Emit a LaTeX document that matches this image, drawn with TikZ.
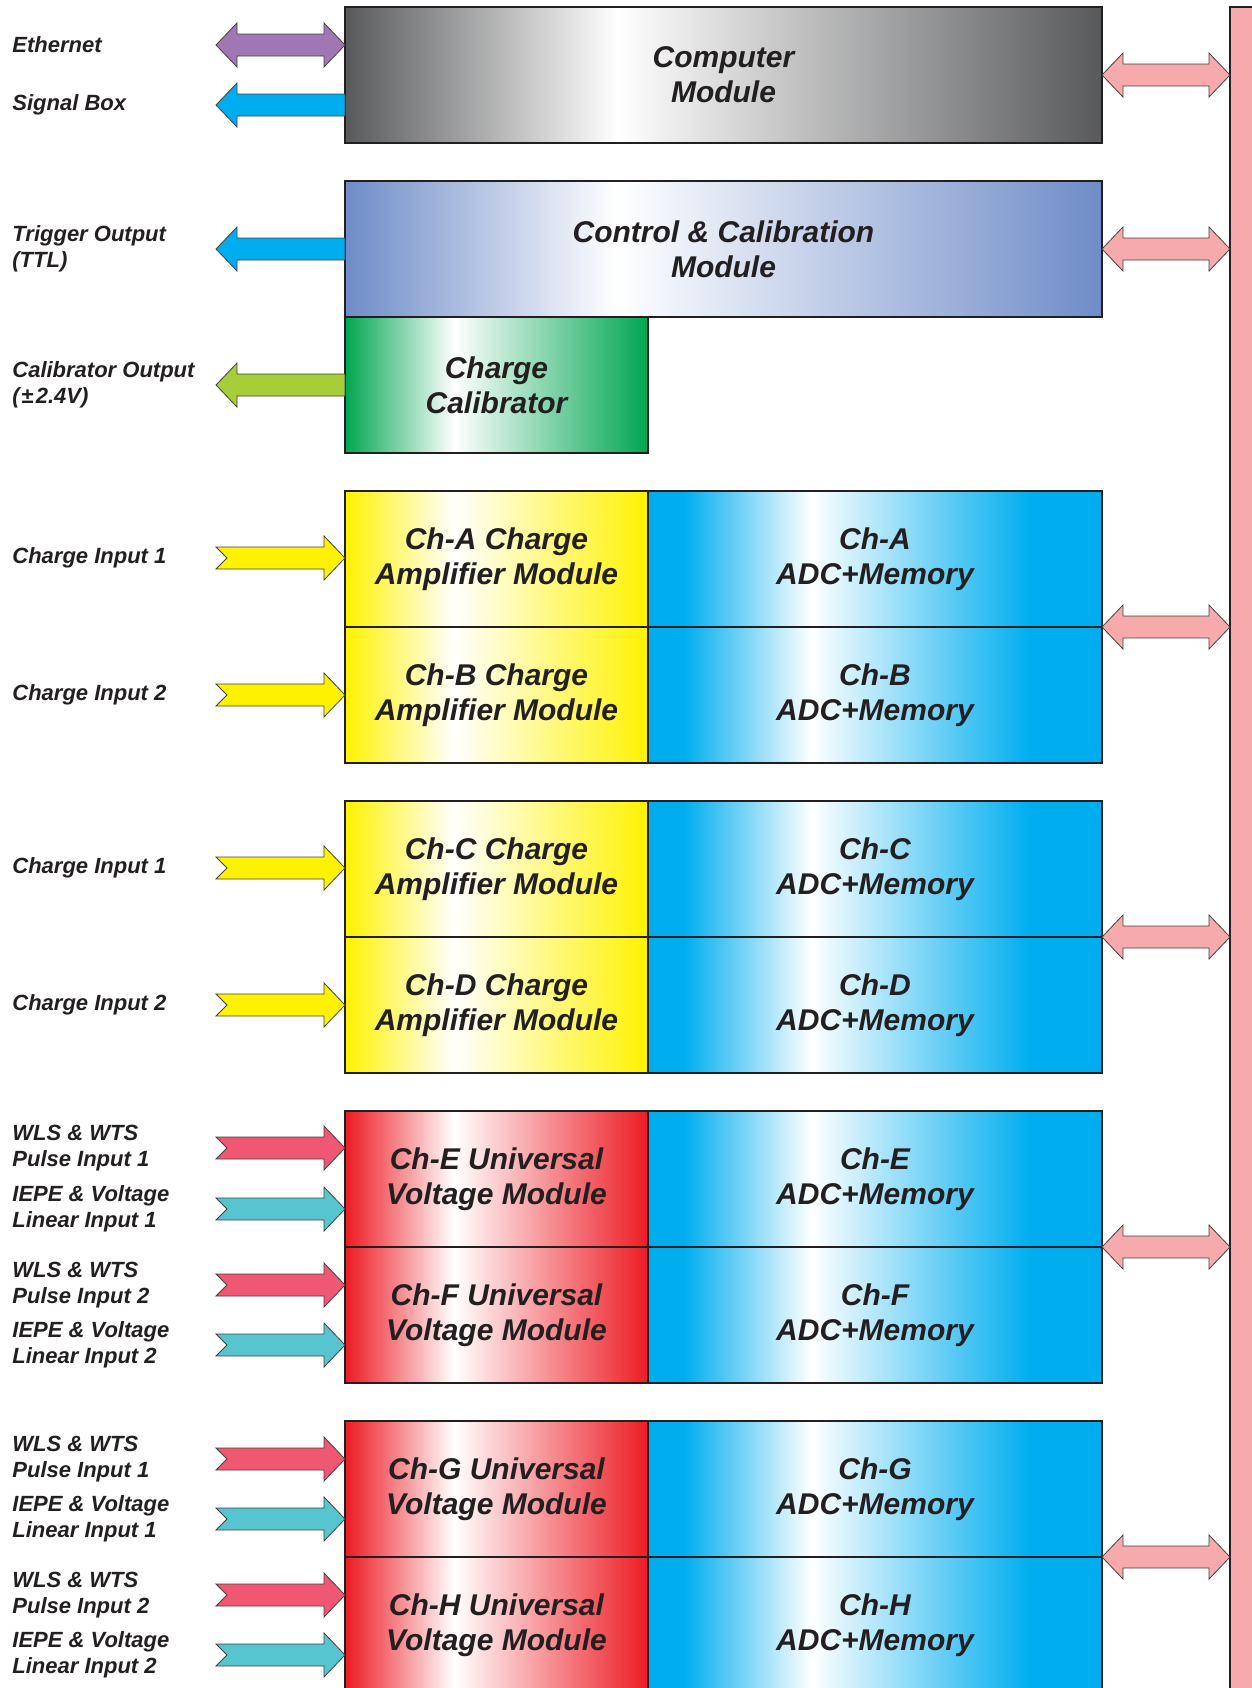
\documentclass[tikz,border=0pt]{standalone}
\usepackage{fontspec}
\setmainfont{Liberation Sans}
\usetikzlibrary{positioning,calc}

\definecolor{txt}{RGB}{35,31,32}
\definecolor{cgray}{RGB}{88,89,91}
\definecolor{cblue}{RGB}{110,140,200}
\definecolor{cgreen}{RGB}{0,166,81}
\definecolor{cyellow}{RGB}{255,242,0}
\definecolor{ccyan}{RGB}{0,174,239}
\definecolor{cred}{RGB}{237,28,36}
\definecolor{cpink}{RGB}{246,170,172}
\definecolor{cpurple}{RGB}{161,118,181}
\definecolor{clime}{RGB}{166,206,57}
\definecolor{crose}{RGB}{239,87,115}
\definecolor{cteal}{RGB}{86,197,208}

% white band at about a third of the box
\newcommand{\modshade}[2]{%
  \pgfdeclarehorizontalshading{#1}{100bp}{color(0bp)=(#2); color(25bp)=(#2);
    color(43bp)=(white); color(75bp)=(#2); color(100bp)=(#2)}}
\modshade{compshade}{cgray}
\modshade{ctrlshade}{cblue}
\modshade{calshade}{cgreen}
\modshade{ampshade}{cyellow}
\pgfdeclarehorizontalshading{redshade}{100bp}{color(0bp)=(cred); color(25bp)=(cred);
  color(27bp)=(cred!90!white); color(43bp)=(white); color(75bp)=(cred); color(100bp)=(cred)}
\pgfdeclarehorizontalshading{adcshade}{100bp}{color(0bp)=(ccyan); color(25bp)=(ccyan);
  color(29bp)=(ccyan); color(43bp)=(white); color(67bp)=(ccyan); color(100bp)=(ccyan)}

\tikzset{
  module/.style={draw=txt, line width=0.6pt, inner sep=0pt, outer sep=0pt,
    minimum height=68pt, align=center, text=txt, shade,
    font=\fontsize{15}{17.5}\selectfont\bfseries\itshape},
  wide/.style={module, minimum width=378.5pt},
  amp/.style={module, minimum width=151.5pt},
  adc/.style={module, minimum width=227pt, shading=adcshade},
  lbl/.style={anchor=west, align=left, inner sep=0pt, text=txt,
    font=\fontsize{11}{13}\selectfont\bfseries\itshape},
  blockarrow/.style={draw=txt!85, line width=0.4pt},
  % arrow heads pointing both ways
  dblarrow/.style={blockarrow, to path={let \p1=(\tikztostart), \p2=(\tikztotarget) in
    (\x1,\y1) -- (\x1+10.5pt,\y1+11pt) -- (\x1+10.5pt,\y1+5.5pt) -- (\x2-10.5pt,\y1+5.5pt)
    -- (\x2-10.5pt,\y1+11pt) -- (\x2,\y1) -- (\x2-10.5pt,\y1-11pt) -- (\x2-10.5pt,\y1-5.5pt)
    -- (\x1+10.5pt,\y1-5.5pt) -- (\x1+10.5pt,\y1-11pt) -- cycle}},
  % head on the start, flat end on the module
  outarrow/.style={blockarrow, to path={let \p1=(\tikztostart), \p2=(\tikztotarget) in
    (\x1,\y1) -- (\x1+10.5pt,\y1+11pt) -- (\x1+10.5pt,\y1+5.5pt) -- (\x2,\y1+5.5pt)
    -- (\x2,\y1-5.5pt) -- (\x1+10.5pt,\y1-5.5pt) -- (\x1+10.5pt,\y1-11pt) -- cycle}},
  % notched tail, head on the module
  inarrow/.style={blockarrow, to path={let \p1=(\tikztostart), \p2=(\tikztotarget) in
    (\x1,\y1+5.5pt) -- (\x2-10.5pt,\y1+5.5pt) -- (\x2-10.5pt,\y1+11pt) -- (\x2,\y1)
    -- (\x2-10.5pt,\y1-11pt) -- (\x2-10.5pt,\y1-5.5pt) -- (\x1,\y1-5.5pt) -- (\x1+5.5pt,\y1)
    -- cycle}},
}

\begin{document}
\begin{tikzpicture}[x=0.5pt, y=-0.5pt]
  \path[use as bounding box, clip] (0,0) rectangle (1252,1688);

  % modules
  \node[wide, shading=compshade, anchor=north west] (comp) at (345,7) {Computer\\Module};
  \node[wide, shading=ctrlshade, below=19pt of comp.south west, anchor=north west] (ctrl)
    {Control \& Calibration\\Module};
  \node[amp, shading=calshade, below=0pt of ctrl.south west, anchor=north west] (cal)
    {Charge\\Calibrator};

  \node[amp, shading=ampshade, below=19pt of cal] (ampa) {Ch-A Charge\\Amplifier Module};
  \node[amp, shading=ampshade, below=0pt of ampa] (ampb) {Ch-B Charge\\Amplifier Module};
  \node[adc, right=0pt of ampa] (adca) {Ch-A\\ADC+Memory};
  \node[adc, right=0pt of ampb] (adcb) {Ch-B\\ADC+Memory};

  \node[amp, shading=ampshade, below=19pt of ampb] (ampc) {Ch-C Charge\\Amplifier Module};
  \node[amp, shading=ampshade, below=0pt of ampc] (ampd) {Ch-D Charge\\Amplifier Module};
  \node[adc, right=0pt of ampc] (adcc) {Ch-C\\ADC+Memory};
  \node[adc, right=0pt of ampd] (adcd) {Ch-D\\ADC+Memory};

  \node[amp, shading=redshade, below=19pt of ampd] (ampe) {Ch-E Universal\\Voltage Module};
  \node[amp, shading=redshade, below=0pt of ampe] (ampf) {Ch-F Universal\\Voltage Module};
  \node[adc, right=0pt of ampe] (adce) {Ch-E\\ADC+Memory};
  \node[adc, right=0pt of ampf] (adcf) {Ch-F\\ADC+Memory};

  \node[amp, shading=redshade, below=19pt of ampf] (ampg) {Ch-G Universal\\Voltage Module};
  \node[amp, shading=redshade, below=0pt of ampg] (amph) {Ch-H Universal\\Voltage Module};
  \node[adc, right=0pt of ampg] (adcg) {Ch-G\\ADC+Memory};
  \node[adc, right=0pt of amph] (adch) {Ch-H\\ADC+Memory};

  % bus on the right
  \node[draw=txt, line width=0.6pt, fill=cpink, inner sep=0pt, outer sep=0pt,
    minimum width=15pt, minimum height=846.5pt, anchor=north west] (bus) at (1230,7) {};
  \draw[dblarrow, fill=cpink] (comp.east) to (comp.east -| bus.west);
  \draw[dblarrow, fill=cpink] (ctrl.east) to (ctrl.east -| bus.west);
  \draw[dblarrow, fill=cpink] (adca.south east) to (adca.south east -| bus.west);
  \draw[dblarrow, fill=cpink] (adcc.south east) to (adcc.south east -| bus.west);
  \draw[dblarrow, fill=cpink] (adce.south east) to (adce.south east -| bus.west);
  \draw[dblarrow, fill=cpink] (adcg.south east) to (adcg.south east -| bus.west);

  % outputs
  \node[lbl] (leth) at (12,45) {Ethernet};
  \coordinate (teth) at (216,45);
  \draw[dblarrow, fill=cpurple] (teth) to (teth -| comp.west);
  \node[lbl] (lsig) at (12,105) {Signal Box};
  \coordinate (tsig) at (216,105);
  \draw[outarrow, fill=ccyan] (tsig) to (tsig -| comp.west);
  \node[lbl] (ltrig) at (12,249) {Trigger Output\\(TTL)};
  \coordinate (ttrig) at (216,249);
  \draw[outarrow, fill=ccyan] (ttrig) to (ttrig -| ctrl.west);
  \node[lbl] (lcal) at (12,385) {Calibrator Output\\(\kern1pt{\upshape ±}\kern1pt2.4V)};
  \coordinate (tcal) at (216,385);
  \draw[outarrow, fill=clime] (tcal) to (tcal -| cal.west);

  % charge inputs
  \node[lbl] (lqa) at (12,558) {Charge Input 1};
  \coordinate (tqa) at (216,558);
  \draw[inarrow, fill=cyellow] (tqa) to (tqa -| ampa.west);
  \node[lbl] (lqb) at (12,695) {Charge Input 2};
  \coordinate (tqb) at (216,695);
  \draw[inarrow, fill=cyellow] (tqb) to (tqb -| ampb.west);
  \node[lbl] (lqc) at (12,868) {Charge Input 1};
  \coordinate (tqc) at (216,868);
  \draw[inarrow, fill=cyellow] (tqc) to (tqc -| ampc.west);
  \node[lbl] (lqd) at (12,1005) {Charge Input 2};
  \coordinate (tqd) at (216,1005);
  \draw[inarrow, fill=cyellow] (tqd) to (tqd -| ampd.west);

  % universal inputs
  \node[lbl] (lpe) at (12,1148) {WLS \& WTS\\Pulse Input 1};
  \coordinate (tpe) at (216,1148);
  \draw[inarrow, fill=crose] (tpe) to (tpe -| ampe.west);
  \node[lbl] (lve) at (12,1209) {IEPE \& Voltage\\Linear Input 1};
  \coordinate (tve) at (216,1209);
  \draw[inarrow, fill=cteal] (tve) to (tve -| ampe.west);
  \node[lbl] (lpf) at (12,1285) {WLS \& WTS\\Pulse Input 2};
  \coordinate (tpf) at (216,1285);
  \draw[inarrow, fill=crose] (tpf) to (tpf -| ampf.west);
  \node[lbl] (lvf) at (12,1345) {IEPE \& Voltage\\Linear Input 2};
  \coordinate (tvf) at (216,1345);
  \draw[inarrow, fill=cteal] (tvf) to (tvf -| ampf.west);

  \node[lbl] (lpg) at (12,1459) {WLS \& WTS\\Pulse Input 1};
  \coordinate (tpg) at (216,1459);
  \draw[inarrow, fill=crose] (tpg) to (tpg -| ampg.west);
  \node[lbl] (lvg) at (12,1519) {IEPE \& Voltage\\Linear Input 1};
  \coordinate (tvg) at (216,1519);
  \draw[inarrow, fill=cteal] (tvg) to (tvg -| ampg.west);
  \node[lbl] (lph) at (12,1595) {WLS \& WTS\\Pulse Input 2};
  \coordinate (tph) at (216,1595);
  \draw[inarrow, fill=crose] (tph) to (tph -| amph.west);
  \node[lbl] (lvh) at (12,1655) {IEPE \& Voltage\\Linear Input 2};
  \coordinate (tvh) at (216,1655);
  \draw[inarrow, fill=cteal] (tvh) to (tvh -| amph.west);
\end{tikzpicture}
\end{document}
